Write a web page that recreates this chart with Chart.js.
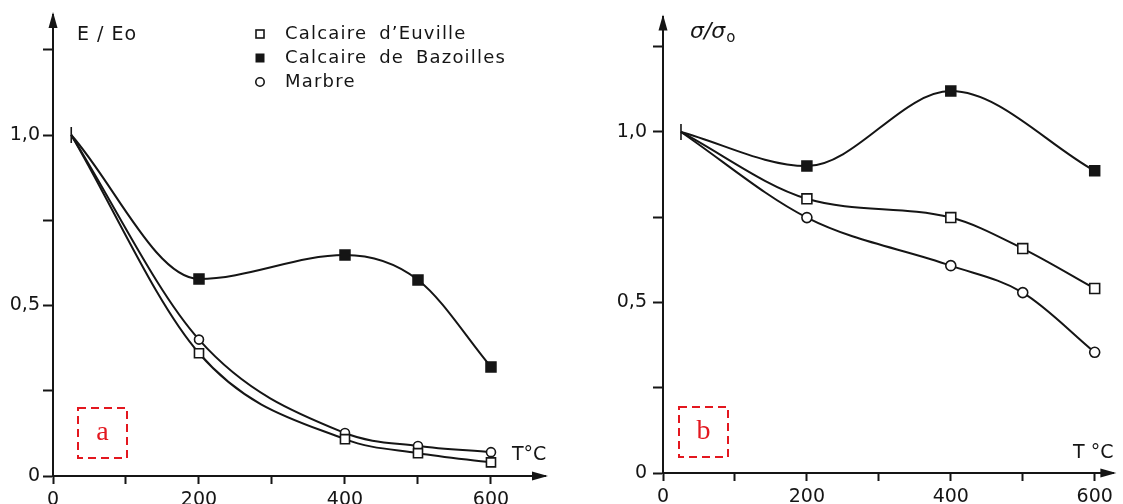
<!DOCTYPE html>
<html>
<head>
<meta charset="utf-8">
<title>E/Eo et σ/σo en fonction de T</title>
<script src="https://cdn.jsdelivr.net/npm/chart.js@4.4.0/dist/chart.umd.min.js"></script>
<style>
  html, body { margin: 0; padding: 0; background: #fff; overflow: hidden; }
  canvas { position: absolute; top: 0; }
</style>
</head>
<body>
<canvas id="chartA" width="560" height="504" style="left:0"></canvas>
<canvas id="chartB" width="563" height="504" style="left:560px"></canvas>
<script>
// --- data ---
const seriesNames = ['Calcaire d\u2019Euville', 'Calcaire de Bazoilles', 'Marbre'];

// (a) E / Eo
const tempsA = [25, 200, 400, 500, 600];
const euvilleA = [1.0, 0.36, 0.108, 0.067, 0.04];
const bazoillesA = [1.0, 0.578, 0.648, 0.575, 0.32];
const marbreA = [1.0, 0.40, 0.126, 0.088, 0.07];

// (b) sigma / sigma0
const tempsB = [25, 200, 400, 500, 600];
const tempsBazB = [25, 200, 400, 600];
const euvilleB = [1.0, 0.804, 0.749, 0.658, 0.541];
const bazoillesB = [1.0, 0.90, 1.12, 0.886];
const marbreB = [1.0, 0.749, 0.608, 0.529, 0.354];

// axes
const xTicks = [0, 100, 200, 300, 400, 500, 600];
const xLabelValues = [0, 200, 400, 600];
const yTicks = [0, 0.25, 0.5, 0.75, 1.0, 1.25];
const yLabelValues = [0, 0.5, 1.0];
const yLabelText = ['0', '0,5', '1,0'];

const INK = '#151515';
const RED = '#e3171f';
const FONT = 'DejaVu Sans';

function series(temps, vals, style, r, filled, startTick) {
  return {
    data: temps.map((t, i) => ({ x: t, y: vals[i] })),
    borderColor: INK,
    borderWidth: 2,
    cubicInterpolationMode: 'monotone',
    pointStyle: c => c.dataIndex === 0 ? 'line' : style,
    pointRotation: c => c.dataIndex === 0 ? 90 : 0,
    pointRadius: c => c.dataIndex === 0 ? (startTick ? 8 : 0) : r,
    pointBackgroundColor: filled ? INK : '#fff',
    pointBorderColor: INK,
    pointBorderWidth: 1.6
  };
}

function arrowUp(ctx, x, y) {
  ctx.beginPath();
  ctx.moveTo(x, y - 3);
  ctx.lineTo(x - 4.5, y + 13);
  ctx.lineTo(x + 4.5, y + 13);
  ctx.closePath();
  ctx.fill();
}

function arrowRight(ctx, x, y) {
  ctx.beginPath();
  ctx.moveTo(x + 3, y);
  ctx.lineTo(x - 13, y - 4.5);
  ctx.lineTo(x - 13, y + 4.5);
  ctx.closePath();
  ctx.fill();
}

function redBox(ctx, x, y, w, h, letter) {
  ctx.save();
  ctx.strokeStyle = RED;
  ctx.lineWidth = 2;
  ctx.setLineDash([8, 5]);
  ctx.strokeRect(x, y, w, h);
  ctx.setLineDash([]);
  ctx.fillStyle = RED;
  ctx.font = '28px "Liberation Serif"';
  ctx.textAlign = 'center';
  ctx.textBaseline = 'middle';
  ctx.fillText(letter, x + w / 2, y + h / 2);
  ctx.restore();
}

function drawLegend(ctx, x, y0, gap) {
  ctx.save();
  ctx.strokeStyle = INK;
  ctx.lineWidth = 1.6;
  // open square
  ctx.fillStyle = '#fff';
  ctx.fillRect(x - 4, y0 - 4, 8, 8);
  ctx.strokeRect(x - 4, y0 - 4, 8, 8);
  // filled square
  ctx.fillStyle = INK;
  ctx.fillRect(x - 4.5, y0 + gap - 4.5, 9, 9);
  // circle
  ctx.beginPath();
  ctx.arc(x, y0 + 2 * gap, 4.2, 0, Math.PI * 2);
  ctx.fillStyle = '#fff';
  ctx.fill();
  ctx.stroke();

  ctx.fillStyle = INK;
  ctx.font = '18px "' + FONT + '"';
  ctx.letterSpacing = '1.2px';
  ctx.wordSpacing = '5px';
  ctx.textAlign = 'left';
  ctx.textBaseline = 'middle';
  seriesNames.forEach((name, i) => ctx.fillText(name, x + 25, y0 + i * gap));
  ctx.restore();
}

const decorPlugin = {
  id: 'decor',
  afterDraw(chart, args, opts) {
    const ctx = chart.ctx;
    const a = chart.chartArea;
    ctx.save();
    ctx.fillStyle = INK;
    arrowUp(ctx, a.left, a.top);
    arrowRight(ctx, a.right, a.bottom);
    ctx.restore();

    ctx.save();
    ctx.fillStyle = INK;
    ctx.textBaseline = 'middle';
    ctx.textAlign = 'left';
    if (opts.panel === 'a') {
      ctx.font = '19px "' + FONT + '"';
      ctx.letterSpacing = '1px';
      ctx.fillText('E / Eo', 77, 35);
      ctx.letterSpacing = '0px';
      ctx.fillText('T\u00b0C', 512, 455);
    } else {
      ctx.font = 'italic 22px "' + FONT + '"';
      ctx.fillText('\u03c3/\u03c3', 130, 32);
      const w = ctx.measureText('\u03c3/\u03c3').width;
      ctx.font = '15px "' + FONT + '"';
      ctx.fillText('o', 130 + w + 1, 38);
      ctx.font = '19px "' + FONT + '"';
      ctx.fillText('T \u00b0C', 513, 453);
    }
    ctx.restore();

    if (opts.panel === 'a') {
      drawLegend(ctx, 260, 34, 24);
      redBox(ctx, 78, 408, 49, 50, 'a');
    } else {
      redBox(ctx, 119, 407, 49, 50, 'b');
    }
  }
};

function makeChart(id, p) {
  return new Chart(document.getElementById(id), {
    type: 'line',
    data: { datasets: p.datasets },
    options: {
      responsive: false,
      animation: false,
      events: [],
      layout: { padding: { left: 0, top: p.top, right: p.right, bottom: 0 } },
      plugins: {
        legend: { display: false },
        tooltip: { enabled: false },
        decor: { panel: p.panel }
      },
      scales: {
        x: {
          type: 'linear',
          min: 0,
          max: p.xMax,
          afterBuildTicks: s => { s.ticks = xTicks.map(v => ({ value: v })); },
          afterFit: s => { s.height = p.bottomH; },
          ticks: {
            autoSkip: false,
            maxRotation: 0,
            padding: 5,
            color: INK,
            font: { family: FONT, size: 19 },
            callback: v => xLabelValues.includes(v) ? String(v) : ''
          },
          grid: { drawOnChartArea: false, drawTicks: true, tickLength: 8, tickWidth: 2, tickColor: INK, color: INK },
          border: { display: true, color: INK, width: 2 }
        },
        y: {
          type: 'linear',
          min: 0,
          max: p.yMax,
          afterBuildTicks: s => { s.ticks = yTicks.map(v => ({ value: v })); },
          afterFit: s => { s.width = p.leftW; },
          ticks: {
            padding: p.yPad,
            color: INK,
            font: { family: FONT, size: 19 },
            callback: v => {
              const i = yLabelValues.indexOf(v);
              return i >= 0 ? yLabelText[i] : '';
            }
          },
          grid: { drawOnChartArea: false, drawTicks: true, tickLength: 10, tickWidth: 2, tickColor: INK, color: INK },
          border: { display: true, color: INK, width: 2 }
        }
      }
    },
    plugins: [decorPlugin]
  });
}

makeChart('chartA', {
  panel: 'a',
  top: 15, right: 15, leftW: 53, bottomH: 28, yPad: 3,
  xMax: 674, yMax: 1.352,
  datasets: [
    series(tempsA, bazoillesA, 'rect', 7, true, true),
    series(tempsA, euvilleA, 'rect', 6.4, false, false),
    series(tempsA, marbreA, 'circle', 4.5, false, false)
  ]
});

makeChart('chartB', {
  panel: 'b',
  top: 16, right: 3, leftW: 103, bottomH: 31, yPad: 6,
  xMax: 626, yMax: 1.336,
  datasets: [
    series(tempsBazB, bazoillesB, 'rect', 7, true, true),
    series(tempsB, euvilleB, 'rect', 7, false, false),
    series(tempsB, marbreB, 'circle', 5, false, false)
  ]
});
</script>
</body>
</html>
